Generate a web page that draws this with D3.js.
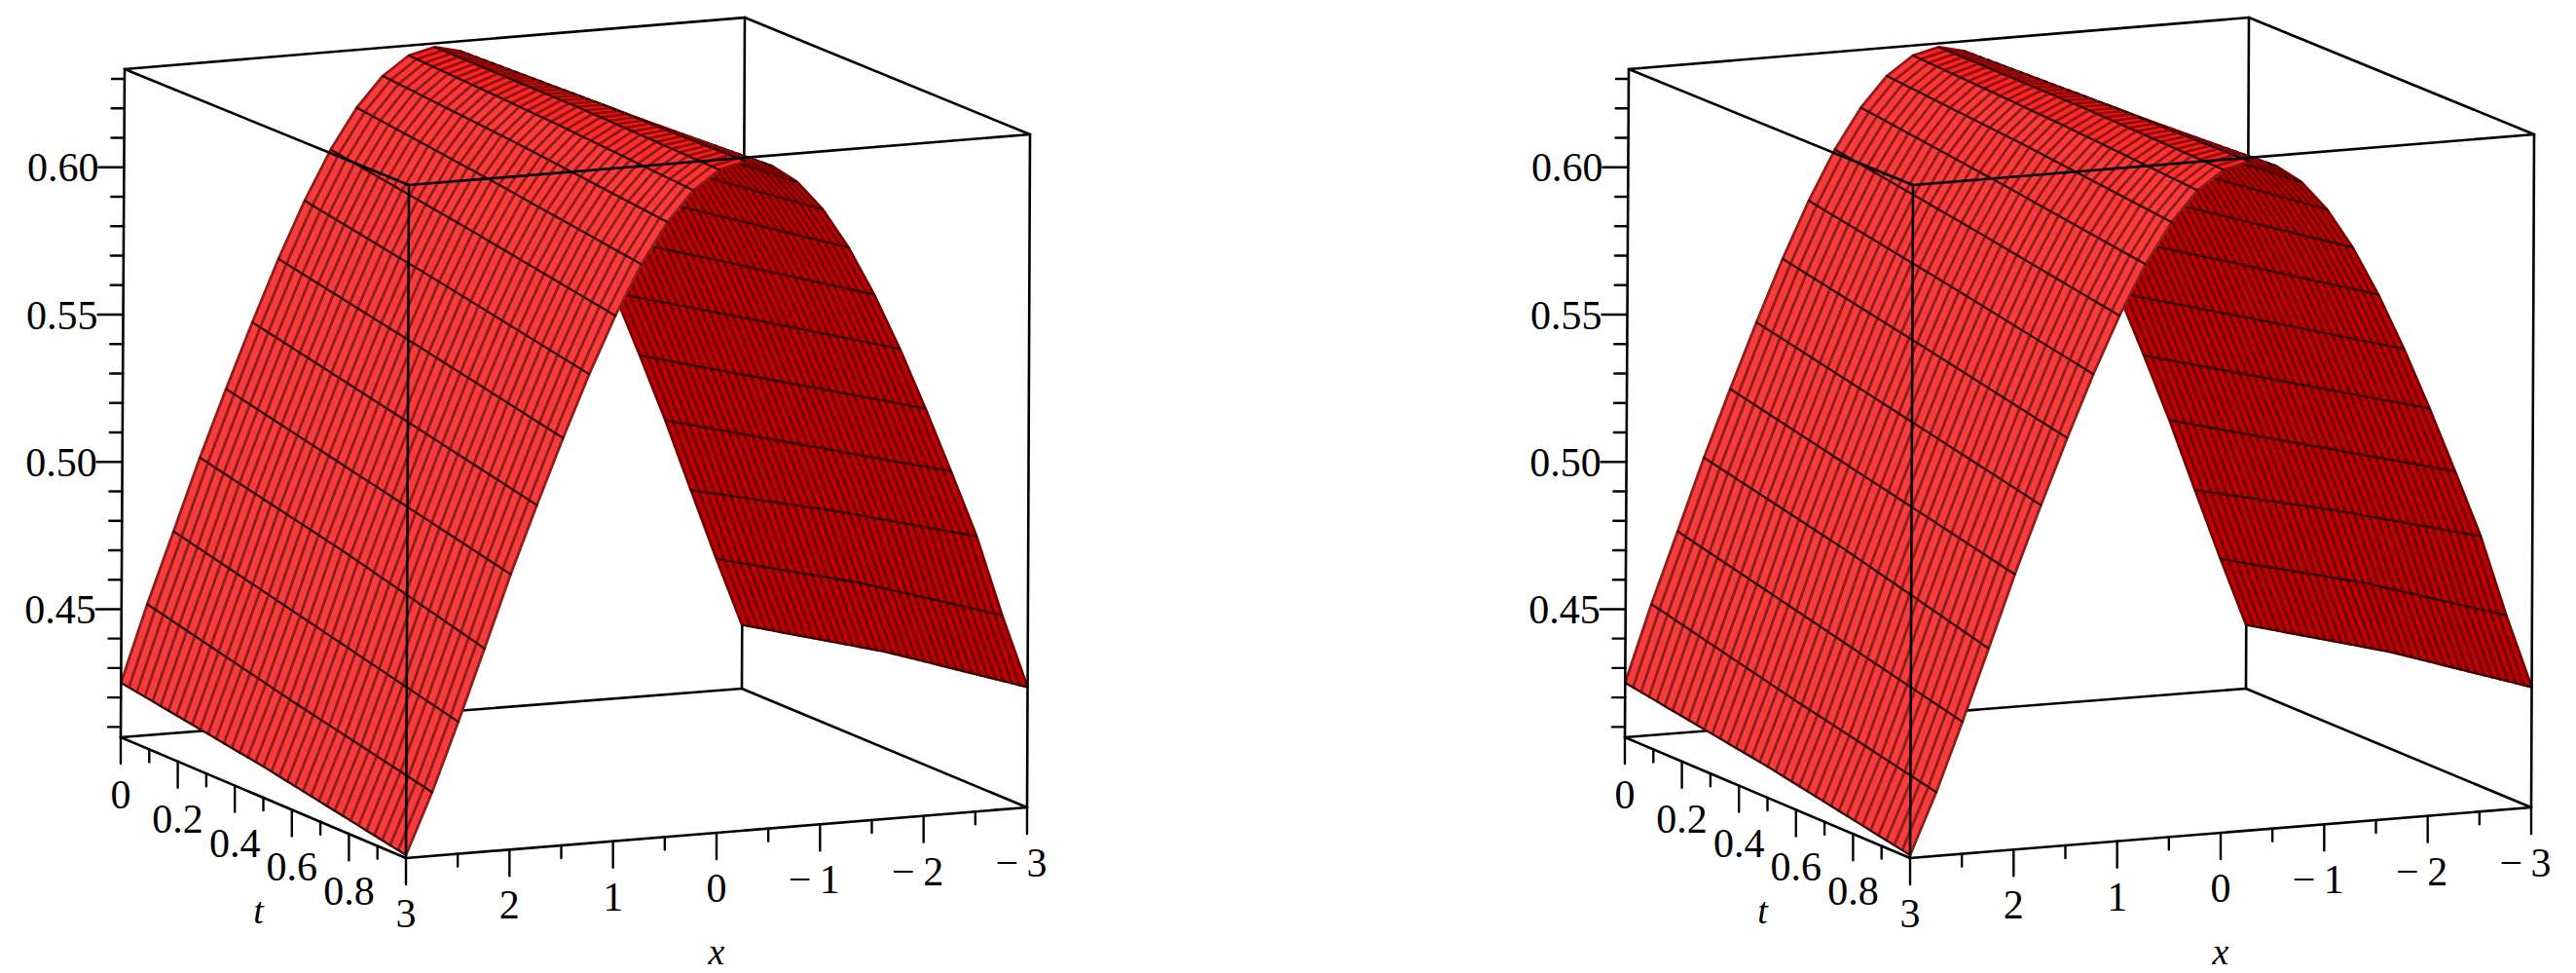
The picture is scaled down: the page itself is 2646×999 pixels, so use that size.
<!DOCTYPE html>
<html><head><meta charset="utf-8">
<script src="https://cdn.jsdelivr.net/npm/d3@7"></script>
<style>body{margin:0;background:#fff}svg{display:block}text{font-family:'Liberation Serif','DejaVu Serif',serif}</style>
</head><body>
<script>
// ---- data ----
const xValues = [-3,-2.75,-2.5,-2.25,-2,-1.75,-1.5,-1.25,-1,-0.75,-0.5,-0.25,0,0.25,0.5,0.75,1,1.25,1.5,1.75,2,2.25,2.5,2.75,3];
const tRows = [0, 0.5, 1];
const zAtT0  = [.428,.451,.475,.4993,.5219,.5438,.5646,.5836,.6002,.6137,.6237,.6299,.632,.6299,.6237,.6137,.6002,.5836,.5646,.5438,.5219,.4993,.475,.451,.425];
const zAtT05 = [.439,.463,.488,.5106,.5329,.5544,.5744,.5922,.6073,.6192,.6273,.6315,.6315,.6273,.6192,.6073,.5922,.5744,.5544,.5329,.5106,.488,.463,.439,.417];
const zAtT1  = [.447,.472,.4993,.5219,.5438,.5646,.5836,.6002,.6137,.6237,.6299,.632,.6299,.6237,.6137,.6002,.5836,.5646,.5438,.5219,.4993,.475,.451,.428,.4075];
const zTicksMajor = [0.45, 0.50, 0.55, 0.60];
const zTickLabels = ["0.45","0.50","0.55","0.60"];
const zTicksMinor = [0.41,0.42,0.43,0.44,0.46,0.47,0.48,0.49,0.51,0.52,0.53,0.54,0.56,0.57,0.58,0.59,0.61,0.62,0.63];
const tTicks = [0,0.1,0.2,0.3,0.4,0.5,0.6,0.7,0.8,0.9];
const tTickLabels = {0:"0",0.2:"0.2",0.4:"0.4",0.6:"0.6",0.8:"0.8"};
const xTicks = [3,2.5,2,1.5,1,0.5,0,-0.5,-1,-1.5,-2,-2.5,-3];
const xTickLabels = {3:"3",2:"2",1:"1",0:"0","-1":"\u2212\u20091","-2":"\u2212\u20092","-3":"\u2212\u20093"};
const zDomain = [0.4065, 0.6333];
const tStripes = 36;

// ---- layout ----
const W = 2646, H = 999;
const svg = d3.select("body").append("svg").attr("width", W).attr("height", H);
const C = [
  [[[124,757],[128,71]], [[417,881],[420,190]]],
  [[[762,707],[765,18]], [[1055,829],[1058,138]]]
];
const uS = d3.scaleLinear().domain([3,-3]).range([0,1]);
const vS = d3.scaleLinear().domain([0,1]).range([0,1]);
const wS = d3.scaleLinear().domain(zDomain).range([0,1]);
const fillScale = d3.scaleLinear().domain([-0.12,-0.03,0,0.03,0.12])
  .range(["#f63c3c","#ff3a3a","#ff1414","#c40000","#bc0000"]).clamp(true);

function zAt(i, t) {
  if (t <= 0.5) return zAtT0[i] + (zAtT05[i]-zAtT0[i]) * (t/0.5);
  return zAtT05[i] + (zAtT1[i]-zAtT05[i]) * ((t-0.5)/0.5);
}

function drawPanel(ox) {
  const g = svg.append("g").attr("transform", `translate(${ox},0)`);
  const P = (x, t, z) => {
    const u = uS(x), v = vS(t), w = wS(z);
    let X = 0, Y = 0;
    for (let a = 0; a < 2; a++) for (let b = 0; b < 2; b++) for (let c = 0; c < 2; c++) {
      const k = (a ? u : 1-u) * (b ? v : 1-v) * (c ? w : 1-w);
      X += k * C[a][b][c][0]; Y += k * C[a][b][c][1];
    }
    return [X, Y];
  };
  const line = (p, q, sw, col) => g.append("line").attr("x1",p[0]).attr("y1",p[1]).attr("x2",q[0]).attr("y2",q[1])
      .attr("stroke", col || "#000").attr("stroke-width", sw).attr("stroke-linecap","round");
  const [z0, z1] = zDomain;
  line(P(-3,0,z0), P(-3,0,z1), 2.6);
  line(P(3,0,z0), P(-3,0,z0), 2.6);
  line(P(-3,0,z0), P(-3,1,z0), 2.6);
  line(P(3,0,z1), P(-3,0,z1), 2.6);
  line(P(-3,0,z1), P(-3,1,z1), 2.6);

  const tMesh = d3.range(tStripes + 1).map(j => j / tStripes);
  const quads = [];
  for (let j = 0; j < tStripes; j++) for (let i = 0; i < xValues.length - 1; i++)
    quads.push({i, j, d: tMesh[j] + 0.3*(xValues[i]+3)/6});
  quads.sort((a, b) => a.d - b.d);
  const pathGen = d3.line();
  quads.forEach(q => {
    const {i, j} = q;
    const ta = tMesh[j], tb = tMesh[j+1], xa = xValues[i], xb = xValues[i+1];
    const tm = (ta+tb)/2;
    const slope = (zAt(i+1, tm) - zAt(i, tm)) / (xb - xa);
    const fill = fillScale(slope);
    const stripe = d3.interpolateRgb(fill, "#200000")(slope > 0.01 ? 0.5 : 0.5);
    const pa = P(xa,ta,zAt(i,ta)), pb = P(xb,ta,zAt(i+1,ta)), pc = P(xb,tb,zAt(i+1,tb)), pd = P(xa,tb,zAt(i,tb));
    g.append("path").attr("d", pathGen([pa,pb,pc,pd]) + "Z").attr("fill", fill)
      .attr("stroke", fill).attr("stroke-width", 0.8).attr("stroke-linejoin","round");
    line(pa, pb, 2.8, stripe).attr("stroke-linecap","butt");
    if (j === tStripes - 1) line(pd, pc, 2.8, stripe).attr("stroke-linecap","butt");
    line(pa, pd, 2.2, "#2a0000");
    if (i === xValues.length - 2) line(pb, pc, 2.2, "#2a0000");
  });

  line(P(3,0,z0), P(3,0,z1), 2.6);
  line(P(3,1,z0), P(3,1,z1), 2.6);
  line(P(-3,1,z0), P(-3,1,z1), 2.6);
  line(P(3,0,z1), P(3,1,z1), 2.6);
  line(P(3,1,z1), P(-3,1,z1), 2.6);
  line(P(3,0,z0), P(3,1,z0), 2.6);
  line(P(3,1,z0), P(-3,1,z0), 2.6);

  zTicksMinor.forEach(z => { const p = P(3,0,z); line([p[0]-13,p[1]], p, 2.4); });
  zTicksMajor.forEach((z, k) => {
    const p = P(3,0,z); line([p[0]-26,p[1]], p, 2.4);
    g.append("text").attr("x", p[0]-26).attr("y", p[1]).attr("dy","0.35em").attr("text-anchor","end")
      .attr("font-size", 42).text(zTickLabels[k]);
  });
  tTicks.forEach(t => {
    const p = P(3,t,z0); const major = Math.round(t*10) % 2 === 0;
    line(p, [p[0], p[1] + (major ? 27 : 13)], 2.4);
    const lab = tTickLabels[t];
    if (lab !== undefined) g.append("text").attr("x", p[0]).attr("y", p[1]+73).attr("text-anchor","middle")
      .attr("font-size", 42).text(lab);
  });
  xTicks.forEach(x => {
    const p = P(x,1,z0); const major = Number.isInteger(x);
    line(p, [p[0], p[1] + (major ? 27 : 13)], 2.4);
    const lab = xTickLabels[x];
    if (lab !== undefined) g.append("text").attr("x", p[0] - (x < 0 ? 6 : 0)).attr("y", p[1]+71).attr("text-anchor","middle")
      .attr("font-size", 42).text(lab);
  });
  const pt = P(3,0.5,z0), px = P(0,1,z0);
  g.append("text").attr("x", pt[0]-5).attr("y", 948).attr("text-anchor","middle").attr("font-style","italic")
    .attr("font-size", 38).text("t");
  g.append("text").attr("x", px[0]).attr("y", 990).attr("text-anchor","middle").attr("font-style","italic")
    .attr("font-size", 38).text("x");
}
drawPanel(0);
drawPanel(1545);
</script>
</body></html>
